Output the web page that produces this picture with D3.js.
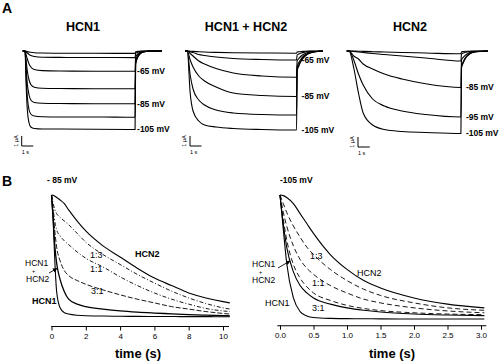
<!DOCTYPE html>
<html><head><meta charset="utf-8">
<script src="https://cdn.jsdelivr.net/npm/d3@7"></script>
<style>
body{margin:0;background:#fff}
svg{display:block}
text{font-family:"Liberation Sans",Arial,Helvetica,sans-serif;fill:#000}
</style></head>
<body><svg id="c" width="500" height="364"></svg>
<script>
// ---------------- Panel A data (two-electrode voltage clamp traces, µA) ----------------
const aVoltagesHCN1 = [-45, -55, -65, -75, -85, -95, -105];
const aTimesHCN1 = [0, 0.1, 0.2, 0.35, 0.5, 0.8, 1.5, 3, 6, 9.5];
const aPulseHCN1 = [
  [0, -0.03, -0.06, -0.1, -0.13, -0.17, -0.2, -0.22, -0.23, -0.24],
  [0, -0.1, -0.2, -0.35, -0.45, -0.55, -0.62, -0.64, -0.65, -0.66],
  [0, -0.4, -0.8, -1.3, -1.6, -1.85, -1.96, -2.0, -2.02, -2.03],
  [0, -1.0, -2.0, -2.9, -3.35, -3.62, -3.72, -3.75, -3.77, -3.78],
  [0, -1.8, -3.3, -4.4, -4.9, -5.15, -5.22, -5.25, -5.27, -5.28],
  [0, -2.6, -4.6, -5.9, -6.3, -6.5, -6.57, -6.6, -6.6, -6.62],
  [0, -3.5, -5.9, -7.2, -7.6, -7.75, -7.8, -7.8, -7.82, -7.85]
];
const aTailTimes = [9.55, 9.7, 9.9, 10.2, 10.7, 11.8];
const aTailHCN1 = [
  [-0.08, -0.04, -0.02, 0, 0, 0],
  [-0.25, -0.14, -0.06, -0.02, 0, 0],
  [-0.6, -0.33, -0.15, -0.05, -0.01, 0],
  [-0.95, -0.52, -0.24, -0.08, -0.02, 0],
  [-1.15, -0.62, -0.29, -0.09, -0.02, 0],
  [-1.25, -0.68, -0.31, -0.1, -0.03, 0],
  [-1.3, -0.7, -0.33, -0.1, -0.03, 0]
];
const aLabelsHCN1 = [-65, -85, -105];

const aVoltagesMIX = [-55, -65, -75, -85, -95, -105];
const aTimesMIX = [0, 0.25, 0.5, 1, 1.5, 2.5, 4, 6.5, 9.5];
const aPulseMIX = [
  [0, -0.02, -0.04, -0.07, -0.1, -0.14, -0.18, -0.2, -0.22],
  [0, -0.08, -0.15, -0.35, -0.45, -0.6, -0.75, -0.85, -0.9],
  [0, -0.25, -0.5, -1.0, -1.3, -1.75, -2.2, -2.5, -2.63],
  [0, -0.9, -1.6, -2.5, -3.0, -3.6, -4.2, -4.45, -4.55],
  [0, -2.4, -3.8, -4.9, -5.4, -5.9, -6.2, -6.35, -6.4],
  [0, -4.2, -6.0, -7.0, -7.4, -7.6, -7.75, -7.85, -7.9]
];
const aTailMIX = [
  [-0.1, -0.08, -0.05, -0.03, -0.01, 0],
  [-0.4, -0.3, -0.2, -0.11, -0.04, 0],
  [-1.0, -0.75, -0.5, -0.28, -0.1, 0],
  [-1.55, -1.16, -0.78, -0.43, -0.15, 0],
  [-1.85, -1.4, -0.93, -0.52, -0.18, 0],
  [-2.0, -1.5, -1.0, -0.56, -0.2, 0]
];
const aLabelsMIX = [-65, -85, -105];

const aVoltagesHCN2 = [-65, -75, -85, -95, -105];
const aTimesHCN2 = [0, 0.4, 0.8, 1.2, 2, 3, 4.5, 6.5, 9.5];
const aPulseHCN2 = [
  [0, -0.01, -0.02, -0.04, -0.07, -0.1, -0.15, -0.2, -0.28],
  [0, -0.05, -0.1, -0.15, -0.25, -0.35, -0.5, -0.7, -1.0],
  [0, -0.5, -0.8, -1.3, -1.8, -2.3, -2.8, -3.27, -3.65],
  [0, -0.9, -2.3, -3.4, -4.8, -5.5, -6.0, -6.35, -6.6],
  [0, -1.7, -4.2, -6.2, -7.4, -7.85, -8.05, -8.15, -8.25]
];
const aTailHCN2 = [
  [-0.08, -0.06, -0.03, -0.02, 0, 0],
  [-0.3, -0.21, -0.13, -0.06, -0.02, 0],
  [-0.9, -0.63, -0.38, -0.18, -0.05, 0],
  [-1.5, -1.05, -0.63, -0.3, -0.09, 0],
  [-1.7, -1.2, -0.71, -0.34, -0.1, 0]
];
const aLabelsHCN2 = [-85, -95, -105];

// ---------------- Panel B data (normalised current) ----------------
const bTimesLeft = [0, 0.1, 0.2, 0.3, 0.5, 0.75, 1, 1.5, 2, 3, 4, 5, 6, 7, 8, 9, 10, 10.4];
const bLeftHCN2  = [1, 0.998, 0.99, 0.98, 0.96, 0.93, 0.88, 0.79, 0.71, 0.59, 0.50, 0.41, 0.33, 0.27, 0.21, 0.17, 0.14, 0.13];
const bLeft13    = [1, 0.93, 0.88, 0.85, 0.82, 0.79, 0.76, 0.69, 0.62, 0.52, 0.44, 0.36, 0.29, 0.225, 0.17, 0.125, 0.09, 0.08];
const bLeft11    = [1, 0.88, 0.78, 0.72, 0.67, 0.63, 0.60, 0.54, 0.49, 0.42, 0.34, 0.27, 0.21, 0.16, 0.12, 0.085, 0.065, 0.06];
const bLeft31    = [1, 0.85, 0.7, 0.58, 0.47, 0.39, 0.35, 0.31, 0.28, 0.235, 0.195, 0.16, 0.13, 0.10, 0.08, 0.06, 0.045, 0.04];
const bLeftCoex  = [1, 0.8, 0.58, 0.45, 0.32, 0.22, 0.16, 0.12, 0.1, 0.08, 0.065, 0.055, 0.048, 0.042, 0.036, 0.031, 0.027, 0.026];
const bLeftHCN1  = [1, 0.78, 0.45, 0.22, 0.09, 0.05, 0.04, 0.03, 0.026, 0.024, 0.022, 0.021, 0.02, 0.02, 0.019, 0.019, 0.018, 0.018];
const bTicksLeft = [0, 2, 4, 6, 8, 10];

const bTimesRight = [0, 0.05, 0.1, 0.2, 0.3, 0.4, 0.5, 0.75, 1.0, 1.25, 1.5, 2.0, 2.5, 3.05];
const bRightHCN2 = [1, 0.995, 0.98, 0.93, 0.85, 0.77, 0.69, 0.52, 0.40, 0.31, 0.25, 0.17, 0.12, 0.09];
const bRight13   = [1, 0.93, 0.86, 0.75, 0.66, 0.58, 0.52, 0.40, 0.31, 0.24, 0.19, 0.13, 0.09, 0.07];
const bRight11   = [1, 0.86, 0.75, 0.59, 0.48, 0.41, 0.36, 0.27, 0.21, 0.16, 0.13, 0.09, 0.065, 0.05];
const bRight31   = [1, 0.8, 0.64, 0.44, 0.33, 0.26, 0.21, 0.15, 0.11, 0.085, 0.068, 0.05, 0.04, 0.035];
const bRightCoex = [1, 0.76, 0.58, 0.38, 0.27, 0.21, 0.17, 0.12, 0.09, 0.07, 0.056, 0.04, 0.032, 0.027];
const bRightHCN1 = [1, 0.72, 0.45, 0.17, 0.06, 0.025, 0.012, 0.005, 0.003, 0.002, 0.001, 0, 0, 0];
const bTicksRight = [0, 0.5, 1.0, 1.5, 2.0, 2.5, 3.0];

// ---------------- drawing ----------------
const svg = d3.select("#c");
svg.append("rect").attr("width",500).attr("height",364).attr("fill","#fff");

svg.append("text").attr("x",2).attr("y",13).attr("font-size",14).attr("font-weight","bold").text("A");
svg.append("text").attr("x",2).attr("y",186).attr("font-size",14).attr("font-weight","bold").text("B");

const hold = [-0.2, 11.8];
const yA = d3.scaleLinear().domain([0, -1]).range([51, 61]);

const panelsA = [
  {title:"HCN1", cx:83, range:[22.7,161.7], volts:aVoltagesHCN1, times:aTimesHCN1, pulse:aPulseHCN1, tail:aTailHCN1, labels:aLabelsHCN1, labelDx:2, bar:[21.7,146]},
  {title:"HCN1 + HCN2", cx:246, range:[185,323], volts:aVoltagesMIX, times:aTimesMIX, pulse:aPulseMIX, tail:aTailMIX, labels:aLabelsMIX, labelDx:5, bar:[190,146]},
  {title:"HCN2", cx:410, range:[346.7,488], volts:aVoltagesHCN2, times:aTimesHCN2, pulse:aPulseHCN2, tail:aTailHCN2, labels:aLabelsHCN2, labelDx:5, bar:[358,147]}
];

panelsA.forEach(p => {
  const x = d3.scaleLinear().domain(hold).range(p.range);
  const g = svg.append("g");
  g.append("text").attr("x",p.cx).attr("y",31).attr("text-anchor","middle")
    .attr("font-size",12.5).attr("font-weight","bold").text(p.title);
  const line = d3.line().x(d=>x(d[0])).y(d=>yA(d[1])).curve(d3.curveMonotoneX);
  p.volts.forEach((v,i) => {
    const pts = [[hold[0],0]];
    p.times.forEach((t,j)=>pts.push([t,p.pulse[i][j]]));
    aTailTimes.forEach((t,j)=>pts.push([t,p.tail[i][j]]));
    pts.push([hold[1],0]);
    g.append("path").attr("d",line(pts)).attr("fill","none").attr("stroke","#000").attr("stroke-width",1.1);
    if (p.labels.includes(v)) {
      const last = p.pulse[i][p.pulse[i].length-1];
      g.append("text").attr("x",x(9.5)+p.labelDx).attr("y",yA(last)).attr("dy","0.35em")
        .attr("font-size",8.5).attr("font-weight","bold").text(v+" mV");
    }
  });
  // scale bar 1 µA / 1 s
  const [bx,by] = p.bar;
  const sx = x(1)-x(0), sy = yA(-1)-yA(0);
  g.append("path").attr("d",`M${bx},${by-sy}V${by}H${bx+sx}`).attr("fill","none").attr("stroke","#000").attr("stroke-width",1);
  g.append("text").attr("transform",`translate(${bx-4},${by-sy/2}) rotate(-90)`).attr("text-anchor","middle")
    .attr("font-size",5.5).text("1 µA");
  g.append("text").attr("x",bx).attr("y",by+8).attr("font-size",5.5).text("1 s");
});

// Panel B
const yB = d3.scaleLinear().domain([0,1]).range([319,195]);
function drawB(opts){
  const x = d3.scaleLinear().domain(opts.domain).range(opts.range);
  const g = svg.append("g");
  const line = d3.line().x((d,i)=>x(opts.times[i])).y(d=>yB(d)).curve(d3.curveMonotoneX);
  opts.series.forEach(s=>{
    g.append("path").attr("d",line(s.values)).attr("fill","none").attr("stroke","#000")
      .attr("stroke-width",s.w).attr("stroke-dasharray",s.dash||null);
  });
  const ax = g.append("g").attr("transform",`translate(0,${opts.axisY})`)
    .call(d3.axisBottom(x).tickValues(opts.ticks).tickSize(4).tickPadding(3).tickFormat(opts.fmt));
  ax.select(".domain").remove();
  ax.selectAll("text").attr("font-size",8).attr("fill","#444").style("font-family","'Liberation Sans',Arial,sans-serif");
  ax.append("line").attr("x1",x(opts.lineExt[0])).attr("x2",x(opts.lineExt[1])).attr("stroke","#000").attr("stroke-width",1.1);
  g.append("text").attr("x",opts.titleX).attr("y",358).attr("text-anchor","middle")
    .attr("font-size",13).attr("font-weight","bold").text("time (s)");
  return x;
}
const xL = drawB({domain:[0,10], range:[51.5,223], times:bTimesLeft, axisY:326.5, ticks:bTicksLeft, fmt:d3.format("d"),
  lineExt:[-0.02,10.35], titleX:138,
  series:[
    {values:bLeftHCN2, w:1.1},
    {values:bLeft13, w:0.9, dash:"4,2,1,2"},
    {values:bLeft11, w:0.9, dash:"4,2,1,2"},
    {values:bLeft31, w:0.9, dash:"5,2"},
    {values:bLeftCoex, w:1.3},
    {values:bLeftHCN1, w:1.1}
  ]});
const xR = drawB({domain:[0,3], range:[280,481], times:bTimesRight, axisY:325.7, ticks:bTicksRight, fmt:d3.format(".1f"),
  lineExt:[-0.04,3.08], titleX:392,
  series:[
    {values:bRightHCN2, w:1.1},
    {values:bRight13, w:0.9, dash:"5,3"},
    {values:bRight11, w:0.9, dash:"5,3"},
    {values:bRight31, w:0.9, dash:"5,3"},
    {values:bRightCoex, w:1.1},
    {values:bRightHCN1, w:1.1}
  ]});

// Panel B labels
function txt(x,y,s,size,bold){
  svg.append("text").attr("x",x).attr("y",y).attr("dy","0.35em").attr("font-size",size)
    .attr("font-weight",bold?"bold":"normal").text(s);
}
txt(47,180,"- 85 mV",8.5,true);
txt(280,180,"-105 mV",8.5,true);
// left
txt(135,254,"HCN2",9,true);
txt(90,255,"1:3",9,false);
txt(90,269,"1:1",9,false);
txt(91,291,"3:1",9,false);
txt(25,263.5,"HCN1",8.5,false);
txt(32,271.2,"+",5.5,false);
txt(26,279,"HCN2",8.5,false);
txt(32,301,"HCN1",9,true);
// right
txt(357,273,"HCN2",9,false);
txt(310,256,"1:3",9,false);
txt(312,283,"1:1",9,false);
txt(312,308,"3:1",9,false);
txt(252,264.5,"HCN1",8.5,false);
txt(259,272.2,"+",5.5,false);
txt(252,280,"HCN2",8.5,false);
txt(265,303,"HCN1",9,false);

// arrows
const defs = svg.append("defs");
defs.append("marker").attr("id","ah").attr("viewBox","0 0 10 10").attr("refX",9).attr("refY",5)
  .attr("markerWidth",5).attr("markerHeight",5).attr("orient","auto")
  .append("path").attr("d","M0,0L10,5L0,10z").attr("fill","#000");
svg.append("line").attr("x1",49).attr("y1",273).attr("x2",57).attr("y2",268.5).attr("stroke","#000").attr("stroke-width",0.9).attr("marker-end","url(#ah)");
svg.append("line").attr("x1",278).attr("y1",268).attr("x2",290).attr("y2",261).attr("stroke","#000").attr("stroke-width",0.9).attr("marker-end","url(#ah)");
</script></body></html>
